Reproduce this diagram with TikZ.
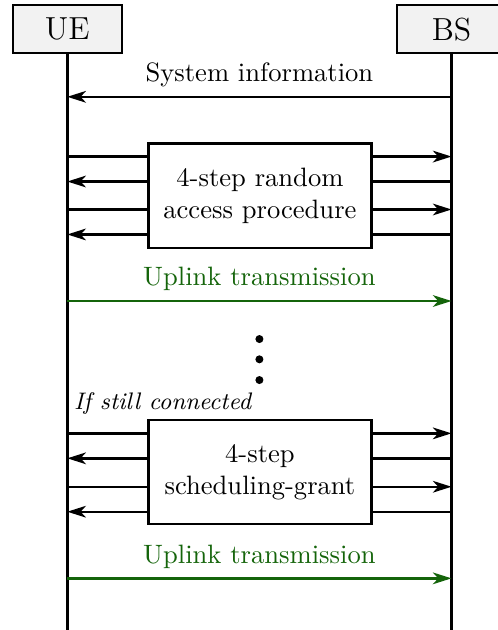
\documentclass[tikz,border=0pt]{standalone}
\usepackage{tikz}
\usetikzlibrary{arrows.meta, positioning, calc}
\definecolor{ulgreen}{RGB}{20,100,10}
\definecolor{entgray}{RGB}{242,242,242}

\begin{document}
\begin{tikzpicture}[x=1cm, y=1cm, line width=0.9pt,
  entity/.style={draw, fill=entgray, minimum width=1.44cm, minimum height=0.63cm, font=\large},
  procbox/.style={draw, fill=white, minimum width=2.95cm, minimum height=1.38cm, align=center},
  msg/.style={-{Stealth[length=7pt, width=4.4pt, inset=2pt]}},
  ulmsg/.style={msg, ulgreen},
]
\useasboundingbox (0,0) rectangle (6.58,8.33);

% ---- entities and lifelines ----
\node[entity] (ue) at (0.89,7.945) {UE};
\node[entity] (bs) at (5.97,7.945) {BS};
\coordinate (ueend) at (0.89,0);
\coordinate (bsend) at (5.97,0);
\draw (ue) -- (ueend);
\draw (bs) -- (bsend);

% system information
\draw[msg] (bs |- 0,7.05) -- node[above] {System information} (ue |- 0,7.05);

% ---- random access ----
\node[procbox] (ra) at (3.437,5.742) {4-step random\\access procedure};
\foreach \y in {6.26,5.56} {
  \draw (ue |- 0,\y) -- (ra.west |- 0,\y);
  \draw[msg] (ra.east |- 0,\y) -- (bs |- 0,\y);
}
\foreach \y in {5.93,5.23} {
  \draw (bs |- 0,\y) -- (ra.east |- 0,\y);
  \draw[msg] (ra.west |- 0,\y) -- (ue |- 0,\y);
}

% uplink
\draw[ulmsg] (ue |- 0,4.35) -- node[above] {Uplink transmission} (bs |- 0,4.35);

% dots
\foreach \y in {3.847,3.579,3.305}
  \fill (3.43,\y) circle (0.053);

% ---- scheduling grant ----
\node[font=\small\itshape, anchor=west, inner sep=0] (cond) at (0.965,3.0) {If still connected};
\node[procbox] (sg) at (3.437,2.089) {4-step\\scheduling-grant};
\foreach \y in {2.600,1.894} {
  \draw (ue |- 0,\y) -- (sg.west |- 0,\y);
  \draw[msg] (sg.east |- 0,\y) -- (bs |- 0,\y);
}
\foreach \y in {2.270,1.564} {
  \draw (bs |- 0,\y) -- (sg.east |- 0,\y);
  \draw[msg] (sg.west |- 0,\y) -- (ue |- 0,\y);
}

% uplink
\draw[ulmsg] (ue |- 0,0.683) -- node[above] {Uplink transmission} (bs |- 0,0.683);
\end{tikzpicture}
\end{document}
